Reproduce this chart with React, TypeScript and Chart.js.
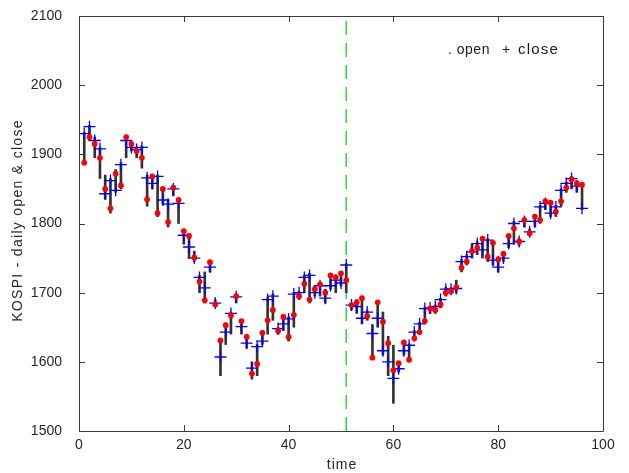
import React, { useEffect, useRef } from "react";
import { Chart, registerables } from "chart.js";
Chart.register(...registerables);

const days = [
  1, 2, 3, 4, 5, 6, 7, 8, 9, 10, 11, 12, 13, 14, 15, 16, 17, 18, 19, 20,
  21, 22, 23, 24, 25, 26, 27, 28, 29, 30, 31, 32, 33, 34, 35, 36, 37, 38, 39, 40,
  41, 42, 43, 44, 45, 46, 47, 48, 49, 50, 51, 52, 53, 54, 55, 56, 57, 58, 59, 60,
  61, 62, 63, 64, 65, 66, 67, 68, 69, 70, 71, 72, 73, 74, 75, 76, 77, 78, 79, 80,
  81, 82, 83, 84, 85, 86, 87, 88, 89, 90, 91, 92, 93, 94, 95, 96,
];

const closeVals = [
  1930, 1940, 1920, 1908, 1843, 1862, 1848, 1885, 1920, 1910,
  1907, 1910, 1866, 1858, 1868, 1834, 1828, 1850, 1829, 1783,
  1766, 1750, 1722, 1707, 1737, 1685, 1607, 1643, 1670, 1694,
  1651, 1627, 1591, 1622, 1630, 1690, 1695, 1648, 1655, 1662,
  1698, 1700, 1722, 1725, 1700, 1710, 1692, 1710, 1718, 1714,
  1740, 1682, 1680, 1663, 1672, 1641, 1663, 1616, 1600, 1576,
  1590, 1616, 1624, 1643, 1655, 1677, 1678, 1680, 1690, 1705,
  1705, 1706, 1745, 1752, 1759, 1771, 1762, 1776, 1747, 1737,
  1750, 1771, 1800, 1774, 1803, 1788, 1803, 1824, 1829, 1815,
  1824, 1848, 1858, 1865, 1854, 1822,
];

const openVals = [
  1888, 1925, 1915, 1895, 1850, 1822, 1872, 1855, 1925, 1915,
  1905, 1895, 1835, 1868, 1815, 1850, 1802, 1852, 1834, 1789,
  1782, 1751, 1716, 1689, 1744, 1683, 1631, 1653, 1667, 1695,
  1659, 1636, 1583, 1597, 1642, 1660, 1675, 1645, 1665, 1636,
  1668, 1695, 1713, 1690, 1705, 1712, 1700, 1725, 1722, 1728,
  1718, 1682, 1686, 1692, 1666, 1606, 1686, 1658, 1627, 1588,
  1598, 1628, 1603, 1634, 1643, 1659, 1677, 1675, 1683, 1700,
  1702, 1708, 1736, 1745, 1760, 1765, 1778, 1752, 1772, 1748,
  1756, 1782, 1793, 1774, 1805, 1786, 1810, 1805, 1832, 1830,
  1817, 1832, 1852, 1864, 1858, 1856,
];

const highVals = [
  1932, 1942, 1925, 1910, 1870, 1865, 1878, 1888, 1925, 1918,
  1910, 1912, 1870, 1870, 1870, 1852, 1834, 1855, 1836, 1792,
  1785, 1760, 1725, 1730, 1746, 1690, 1632, 1656, 1672, 1698,
  1660, 1640, 1600, 1625, 1645, 1693, 1698, 1650, 1668, 1665,
  1700, 1702, 1725, 1728, 1710, 1715, 1705, 1728, 1725, 1730,
  1742, 1685, 1690, 1695, 1674, 1654, 1688, 1672, 1637, 1624,
  1600, 1630, 1626, 1645, 1657, 1679, 1680, 1682, 1692, 1708,
  1707, 1718, 1748, 1755, 1770, 1774, 1780, 1778, 1774, 1752,
  1760, 1784, 1803, 1778, 1808, 1792, 1812, 1826, 1834, 1832,
  1826, 1850, 1860, 1868, 1862, 1858,
];

const lowVals = [
  1885, 1920, 1895, 1865, 1835, 1815, 1845, 1850, 1895, 1905,
  1895, 1880, 1825, 1850, 1810, 1828, 1795, 1840, 1800, 1770,
  1750, 1745, 1700, 1685, 1730, 1680, 1580, 1625, 1640, 1685,
  1640, 1620, 1575, 1580, 1625, 1640, 1660, 1640, 1645, 1630,
  1650, 1690, 1700, 1685, 1695, 1695, 1685, 1705, 1700, 1710,
  1700, 1675, 1670, 1655, 1660, 1604, 1650, 1610, 1580, 1540,
  1585, 1610, 1600, 1630, 1640, 1655, 1670, 1670, 1678, 1695,
  1700, 1700, 1730, 1740, 1750, 1755, 1750, 1745, 1740, 1730,
  1745, 1765, 1770, 1768, 1795, 1782, 1795, 1800, 1820, 1810,
  1810, 1825, 1845, 1850, 1845, 1820,
];

const splitDay = 51;
const xTicks = [0, 20, 40, 60, 80, 100];
const yTicks = [1500, 1600, 1700, 1800, 1900, 2000, 2100];
const xTitle = "time";
const yTitle = "KOSPI - daily open & close";

const FONT = "'Liberation Sans', Arial, sans-serif";

const boxPlugin = {
  id: "matlabBox",
  afterDatasetsDraw(chart: any) {
    const { ctx, chartArea } = chart;
    const { left, right, top, bottom } = chartArea;
    const xs = chart.scales.x;
    const ys = chart.scales.y;
    ctx.save();
    ctx.strokeStyle = "#3a3a3a";
    ctx.lineWidth = 1;
    ctx.beginPath();
    ctx.rect(Math.round(left) + 0.5, Math.round(top) + 0.5, Math.round(right - left), Math.round(bottom - top));
    ctx.stroke();
    const tl = 6;
    ctx.beginPath();
    xTicks.forEach((v) => {
      const px = Math.round(xs.getPixelForValue(v)) + 0.5;
      ctx.moveTo(px, bottom);
      ctx.lineTo(px, bottom - tl);
      ctx.moveTo(px, top);
      ctx.lineTo(px, top + tl);
    });
    yTicks.forEach((v) => {
      const py = Math.round(ys.getPixelForValue(v)) + 0.5;
      ctx.moveTo(left, py);
      ctx.lineTo(left + tl, py);
      ctx.moveTo(right, py);
      ctx.lineTo(right - tl, py);
    });
    ctx.stroke();

    // legend text
    ctx.fillStyle = "#1a1a1a";
    ctx.textBaseline = "middle";
    ctx.textAlign = "left";
    ctx.font = `14px ${FONT}`;
    (ctx as any).letterSpacing = "0.5px";
    ctx.fillText(". open", 448, 50);
    ctx.fillText("+", 502, 50);
    ctx.font = `15px ${FONT}`;
    (ctx as any).letterSpacing = "1.2px";
    ctx.fillText("close", 518, 50);

    // axis titles
    ctx.fillStyle = "#262626";
    ctx.font = `14px ${FONT}`;
    (ctx as any).letterSpacing = "1px";
    ctx.textAlign = "center";
    ctx.fillText(xTitle, (left + right) / 2 + 1, 465);
    ctx.save();
    ctx.translate(18, (top + bottom) / 2 - 3);
    ctx.rotate(-Math.PI / 2);
    (ctx as any).letterSpacing = "1.3px";
    ctx.fillText(yTitle, 0, 0);
    ctx.restore();
    ctx.restore();
  },
};

export default function App() {
  const ref = useRef<HTMLCanvasElement>(null);
  useEffect(() => {
    const chart = new Chart(ref.current as HTMLCanvasElement, {
      type: "scatter",
      data: {
        datasets: [
          {
            type: "scatter",
            label: "open",
            data: days.map((d, i) => ({ x: d, y: openVals[i] })),
            pointStyle: "circle",
            pointRadius: 2.9,
            backgroundColor: "#ff0000",
            borderColor: "#ff0000",
            borderWidth: 0,
            order: 0,
          },
          {
            type: "scatter",
            label: "close",
            data: days.map((d, i) => ({ x: d, y: closeVals[i] })),
            pointStyle: "cross",
            pointRadius: 6,
            borderColor: "#0000ff",
            borderWidth: 1.3,
            order: 1,
          },
          {
            type: "bar",
            label: "range",
            data: days.map((d, i) => ({ x: d, y: [lowVals[i], highVals[i]] })) as any,
            backgroundColor: "#333333",
            barThickness: 2,
            order: 2,
          } as any,
          {
            type: "line",
            label: "split",
            data: [
              { x: splitDay, y: 1500 },
              { x: splitDay, y: 2100 },
            ],
            borderColor: "#33dd33",
            borderDash: [14, 8],
            borderWidth: 1.5,
            pointRadius: 0,
            order: 3,
          },
        ],
      },
      options: {
        responsive: false,
        animation: false,
        events: [],
        layout: { padding: { top: 16, right: 26, left: 0, bottom: 0 } },
        plugins: { legend: { display: false }, tooltip: { enabled: false } },
        scales: {
          x: {
            type: "linear",
            min: 0,
            max: 100,
            offset: false,
            afterFit: (s: any) => {
              s.height = 42;
              s.paddingLeft = 0;
              s.paddingRight = 0;
            },
            afterBuildTicks: (s: any) => {
              s.ticks = xTicks.map((v) => ({ value: v }));
            },
            ticks: {
              font: { size: 14, family: FONT },
              color: "#262626",
              padding: 6,
              callback: (v: any) => String(v),
            },
            grid: { display: false, drawTicks: false, offset: false },
            border: { display: false },
            title: { display: false },
          },
          y: {
            type: "linear",
            min: 1500,
            max: 2100,
            afterFit: (s: any) => {
              s.width = 79;
              s.paddingTop = 0;
              s.paddingBottom = 0;
            },
            afterBuildTicks: (s: any) => {
              s.ticks = yTicks.map((v) => ({ value: v }));
            },
            ticks: {
              font: { size: 14, family: FONT },
              color: "#262626",
              padding: 17,
              callback: (v: any) => String(v),
            },
            grid: { display: false, drawTicks: false },
            border: { display: false },
            title: { display: false },
          },
        },
      },
      plugins: [boxPlugin],
    } as any);
    return () => chart.destroy();
  }, []);
  return (
    <div style={{ position: "absolute", left: 0, top: 0, width: 629, height: 473, background: "#fff" }}>
      <canvas ref={ref} width={629} height={473} />
    </div>
  );
}
